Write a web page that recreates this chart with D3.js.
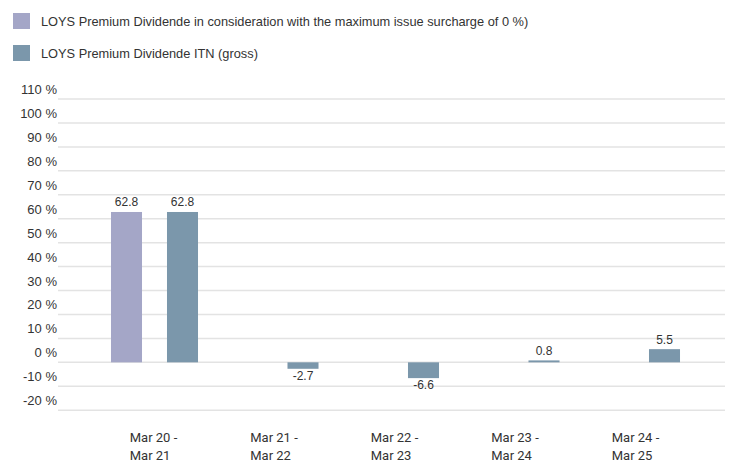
<!DOCTYPE html>
<html>
<head>
<meta charset="utf-8">
<script src="https://cdn.jsdelivr.net/npm/d3@7"></script>
<style>
  body { margin: 0; background: #fff; }
  svg text { font-family: "Liberation Sans", Arial, sans-serif; fill: #333; }
</style>
</head>
<body>
<div id="chart"></div>
<script>
// data
var periods = [["Mar 20 -", "Mar 21"], ["Mar 21 -", "Mar 22"], ["Mar 22 -", "Mar 23"], ["Mar 23 -", "Mar 24"], ["Mar 24 -", "Mar 25"]];
var seriesNames = ["LOYS Premium Dividende in consideration with the maximum issue surcharge of 0 %)", "LOYS Premium Dividende ITN (gross)"];
var withSurcharge = [62.8, null, null, null, null];
var itnGross = [62.8, -2.7, -6.6, 0.8, 5.5];
var yTicks = [-20, -10, 0, 10, 20, 30, 40, 50, 60, 70, 80, 90, 100, 110];
var colors = ["#a4a6c7", "#7b97ab"];

var width = 733, height = 462;
var gridLeft = 58, gridRight = 725;

var svg = d3.select("#chart").append("svg")
  .attr("width", width)
  .attr("height", height);

// legend
var legend = svg.selectAll(".legend")
  .data(seriesNames)
  .enter().append("g")
  .attr("transform", function(d, i) { return "translate(13," + (13 + i * 32) + ")"; });
legend.append("rect")
  .attr("width", 17).attr("height", 16)
  .style("fill", function(d, i) { return colors[i]; });
legend.append("text")
  .attr("x", 28).attr("y", 12.5)
  .style("font-size", "12.8px")
  .text(function(d) { return d; });

// scales
var y = d3.scaleLinear().domain([-20, 110]).range([410.2, 99]);
var x0 = d3.scaleBand().domain(d3.range(periods.length)).range([94.25, 696.75]).padding(0);
var x1 = d3.scaleBand().domain([0, 1]).range([4.25, 116.25]).paddingInner(0.446).paddingOuter(0.223);

// grid
svg.selectAll(".grid")
  .data(yTicks)
  .enter().append("line")
  .attr("x1", gridLeft).attr("x2", gridRight)
  .attr("y1", function(d) { return y(d); })
  .attr("y2", function(d) { return y(d); })
  .style("stroke", "#e3e3e3")
  .style("stroke-width", 1.5);

svg.selectAll(".ytick")
  .data(yTicks)
  .enter().append("text")
  .attr("x", 57)
  .attr("y", function(d) { return y(d) - 5; })
  .attr("text-anchor", "end")
  .style("font-size", "13px")
  .text(function(d) { return d + " %"; });

// bars
var table = [withSurcharge, itnGross];
var cells = [];
table.forEach(function(vals, s) {
  vals.forEach(function(v, i) {
    if (v !== null) cells.push({s: s, i: i, v: v});
  });
});

svg.selectAll(".bar")
  .data(cells)
  .enter().append("rect")
  .attr("x", function(d) { return x0(d.i) + x1(d.s); })
  .attr("width", x1.bandwidth())
  .attr("y", function(d) { return y(Math.max(0, d.v)); })
  .attr("height", function(d) { return Math.abs(y(d.v) - y(0)); })
  .style("fill", function(d) { return colors[d.s]; });

svg.selectAll(".val")
  .data(cells)
  .enter().append("text")
  .attr("x", function(d) { return x0(d.i) + x1(d.s) + x1.bandwidth() / 2; })
  .attr("y", function(d) { return d.v >= 0 ? y(d.v) - 5.5 : y(d.v) + 11; })
  .attr("text-anchor", "middle")
  .style("font-size", "12px")
  .text(function(d) { return d.v.toFixed(1); });

// x labels, two lines, left aligned block centred on the group
var xl = svg.selectAll(".xl")
  .data(periods)
  .enter().append("text")
  .style("font-family", "Roboto, sans-serif")
  .style("font-size", "13px");
xl.each(function(d, i) {
  var t = d3.select(this);
  t.selectAll("tspan").data(d).enter().append("tspan")
    .attr("dy", function(l, j) { return j ? 18 : 0; })
    .text(function(l) { return l; });
  var w = d3.max(t.selectAll("tspan").nodes(), function(n) { return n.getComputedTextLength(); });
  var left = x0(i) + x0.bandwidth() / 2 - w / 2 - 1;
  t.attr("y", 442);
  t.selectAll("tspan").attr("x", left);
});
</script>
</body>
</html>
